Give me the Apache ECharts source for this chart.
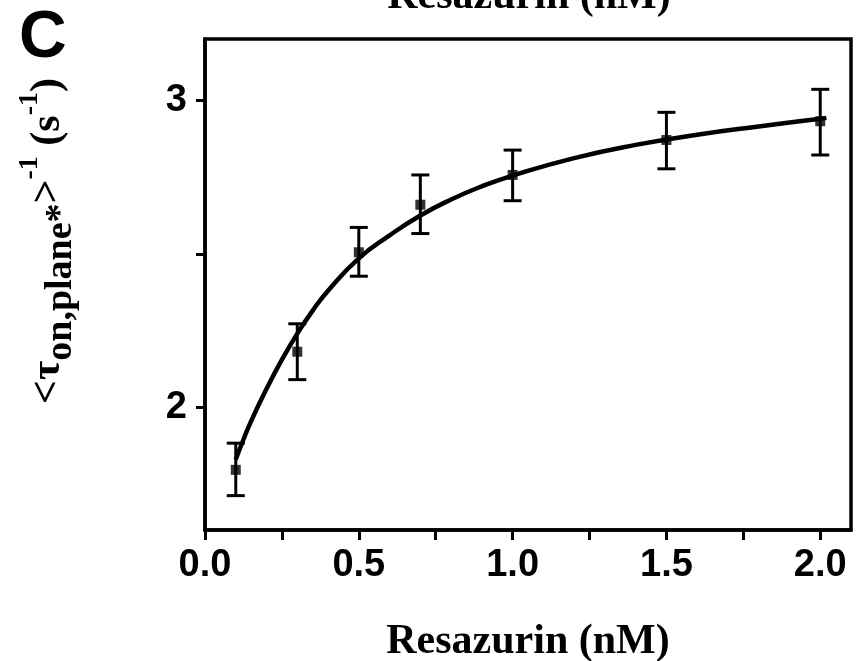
<!DOCTYPE html>
<html>
<head>
<meta charset="utf-8">
<script src="https://cdn.jsdelivr.net/npm/echarts@6/dist/echarts.min.js"></script>
<style>
html,body{margin:0;padding:0;background:#fff;}
#chart{width:857px;height:661px;}
</style>
</head>
<body>
<div id="chart"></div>
<script>
// Measured data (Resazurin concentration in nM)
var conc = [0.1, 0.3, 0.5, 0.7, 1.0, 1.5, 2.0];
var meanRate = [1.796, 2.181, 2.505, 2.66, 2.757, 2.871, 2.932];
var errLower = [1.712, 2.09, 2.427, 2.566, 2.673, 2.777, 2.822];
var errUpper = [1.883, 2.272, 2.586, 2.757, 2.838, 2.961, 3.036];

// Fitted curve, values
var fitX = [0.1, 0.125, 0.15, 0.2, 0.25, 0.3, 0.35, 0.4, 0.5, 0.6, 0.7, 0.8, 0.9, 1.0, 1.2, 1.4, 1.6, 1.8, 2.0, 2.02];
var fitY = [1.83, 1.895, 1.955, 2.06, 2.155, 2.24, 2.315, 2.38, 2.485, 2.56, 2.625, 2.677, 2.72, 2.755, 2.812, 2.855, 2.888, 2.915, 2.94, 2.943];

// Axis ticks and labels
var xTicks = [0, 0.25, 0.5, 0.75, 1.0, 1.25, 1.5, 1.75, 2.0];
var xLabels = [0, 0.5, 1.0, 1.5, 2.0];
var yTicks = [2, 2.5, 3];
var yLabels = [2, 3];

var chart = echarts.init(document.getElementById('chart'));

var pointData = conc.map(function (c, i) { return [c, meanRate[i]]; });
var errData = conc.map(function (c, i) { return [c, errLower[i], errUpper[i]]; });
var fitData = fitX.map(function (x, i) { return [x, fitY[i]]; });

var serif = 'Liberation Serif, Times New Roman, serif';
var axisFont = { fontFamily: 'Liberation Sans, Arial, sans-serif', fontWeight: 'bold', fontSize: 38, color: '#000' };

chart.setOption({
  animation: false,
  backgroundColor: '#fff',
  grid: {
    left: 205, right: 6, top: 39, bottom: 131,
    outerBoundsMode: 'none', containLabel: false,
    show: true, borderColor: '#000', borderWidth: 3.5, backgroundColor: 'transparent'
  },
  xAxis: {
    type: 'value', min: 0, max: 2.1, interval: 0.25,
    axisLine: { show: true, lineStyle: { color: '#000', width: 3.5 } },
    axisTick: { show: true, inside: false, length: 10, customValues: xTicks, lineStyle: { color: '#000', width: 3 } },
    axisLabel: Object.assign({ margin: 17, customValues: xLabels, formatter: function (v) { return v.toFixed(1); } }, axisFont),
    splitLine: { show: false },
    name: 'Resazurin (nM)', nameLocation: 'middle', nameGap: 91,
    nameTextStyle: { fontFamily: serif, fontWeight: 'bold', fontSize: 42, color: '#000' }
  },
  yAxis: {
    type: 'value', min: 1.6, max: 3.2,
    axisLine: { show: true, lineStyle: { color: '#000', width: 3.5 } },
    axisTick: { show: true, inside: false, length: 9, customValues: yTicks, lineStyle: { color: '#000', width: 3 } },
    axisLabel: Object.assign({ margin: 18, customValues: yLabels, formatter: function (v) { return String(Math.round(v)); } }, axisFont),
    splitLine: { show: false }
  },
  graphic: [
    {
      type: 'text', left: 19, top: 6,
      style: { text: 'C', fontFamily: 'Liberation Sans, Arial, sans-serif', fontWeight: 'bold', fontSize: 66, fill: '#000' }
    },
    {
      type: 'text', x: 529, y: 18,
      style: { text: 'Resazurin (nM)', fontFamily: serif, fontWeight: 'bold', fontSize: 42, fill: '#000', textAlign: 'center', textVerticalAlign: 'bottom' }
    },
    {
      type: 'text', x: 48, y: 241, rotation: Math.PI / 2,
      style: {
        text: '{m|<τ}{sub|on,plane*}{m|>}{sup|-1}{m| (s}{sup|-1}{m|)}',
        textAlign: 'center', textVerticalAlign: 'middle',
        fontFamily: serif, fontWeight: 'bold', fill: '#000',
        rich: {
          m: { fontFamily: serif, fontWeight: 'bold', fontSize: 42, lineHeight: 64, verticalAlign: 'middle', fill: '#000' },
          sub: { fontFamily: serif, fontWeight: 'bold', fontSize: 38, lineHeight: 16, verticalAlign: 'bottom', fill: '#000' },
          sup: { fontFamily: serif, fontWeight: 'bold', fontSize: 28, lineHeight: 19, verticalAlign: 'top', fill: '#000' }
        }
      }
    }
  ],
  series: [
    {
      type: 'line', data: fitData, smooth: true, symbol: 'none',
      lineStyle: { color: '#000', width: 4.5 }, z: 2
    },
    {
      type: 'custom', data: errData, z: 3,
      renderItem: function (params, api) {
        var x = api.value(0);
        var lo = api.coord([x, api.value(1)]);
        var hi = api.coord([x, api.value(2)]);
        var hw = 9;
        var st = { stroke: '#000', lineWidth: 3 };
        return {
          type: 'group',
          children: [
            { type: 'line', shape: { x1: lo[0], y1: lo[1], x2: hi[0], y2: hi[1] }, style: st },
            { type: 'line', shape: { x1: lo[0] - hw, y1: lo[1], x2: lo[0] + hw, y2: lo[1] }, style: st },
            { type: 'line', shape: { x1: hi[0] - hw, y1: hi[1], x2: hi[0] + hw, y2: hi[1] }, style: st }
          ]
        };
      }
    },
    {
      type: 'scatter', data: pointData, symbol: 'rect', symbolSize: 10,
      itemStyle: { color: '#000' }, z: 4
    }
  ]
});
</script>
</body>
</html>
